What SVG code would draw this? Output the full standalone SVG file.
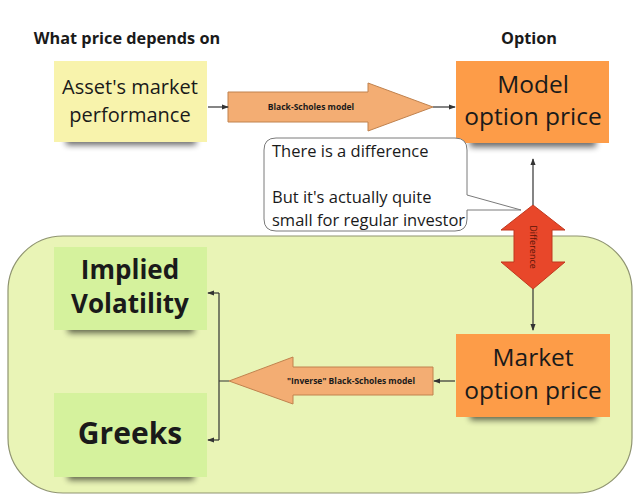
<svg xmlns="http://www.w3.org/2000/svg" width="640" height="502" viewBox="0 0 640 502">
<defs>
<filter id="sh" x="-20%" y="-100%" width="140%" height="300%"><feGaussianBlur stdDeviation="3"/></filter>
<marker id="ah" viewBox="0 0 8 8" refX="7" refY="4" markerWidth="7" markerHeight="7" orient="auto" markerUnits="userSpaceOnUse"><path d="M0,1 L8,4 L0,7 Z" fill="#333"/></marker>
<style>
.t{font-family:"Open Sans","DejaVu Sans",sans-serif;fill:#1a1a1a;text-anchor:middle}
.s{text-anchor:start}
.b{font-weight:bold}
.shadow{fill:#000;opacity:.6;filter:url(#sh)}
.yel{fill:#f8f3ac}
.org{fill:#fd9c48}
.grn{fill:#d5f29d}
.blk{fill:#f3ad73;stroke:#c0824e;stroke-width:1}
.ln{stroke:#333;stroke-width:1.2;fill:none}
</style>
</defs>
<rect width="640" height="502" fill="#ffffff"/>
<text class="t b" x="127" y="44" font-size="16.3">What price depends on</text>
<text class="t b" x="529" y="44" font-size="16.3">Option</text>
<g id="container"><rect x="8" y="236" width="624" height="257" rx="55" ry="55" fill="#e9f4b6" stroke="#8f9470" stroke-width="1.2"/></g>
<g id="asset">
<rect class="shadow" x="66" y="135" width="130" height="10"/>
<rect class="yel" x="54" y="61" width="153" height="81"/>
<text class="t" x="130" y="94" font-size="20">Asset's market</text>
<text class="t" x="130" y="122" font-size="20">performance</text>
</g>
<g id="model">
<rect class="shadow" x="470" y="137" width="126" height="10"/>
<rect class="org" x="456" y="61" width="153" height="82"/>
<text class="t" x="533" y="93" font-size="24.5">Model</text>
<text class="t" x="533" y="125" font-size="24.5">option price</text>
</g>
<g id="market">
<rect class="shadow" x="470" y="410" width="126" height="10"/>
<rect class="org" x="456" y="334" width="154" height="83"/>
<text class="t" x="533" y="366" font-size="24.5">Market</text>
<text class="t" x="533" y="399" font-size="24.5">option price</text>
</g>
<g id="implied">
<rect class="shadow" x="68" y="323" width="126" height="10"/>
<rect class="grn" x="54" y="247" width="153" height="83"/>
<text class="t b" x="130" y="279" font-size="26">Implied</text>
<text class="t b" x="130" y="313" font-size="26">Volatility</text>
</g>
<g id="greeks">
<rect class="shadow" x="68" y="470" width="126" height="10"/>
<rect class="grn" x="54" y="393" width="153" height="84"/>
<text class="t b" x="130" y="444" font-size="30">Greeks</text>
</g>
<g id="bs-arrow">
<polygon class="blk" points="228,92 368,92 368,83 433,107 368,131 368,122 228,122"/>
<text class="t b" x="311" y="110" font-size="8.5">Black-Scholes model</text>
</g>
<g id="inverse-arrow">
<polygon class="blk" points="433,367 293,367 293,357 229,381 293,404 293,395 433,395"/>
<text class="t b" x="351" y="384" font-size="8.5">"Inverse" Black-Scholes model</text>
</g>
<g id="callout">
<path d="M276 138 H455 Q467 138 467 150 V195 L521 210 L467 210 V219 Q467 231 455 231 H276 Q264 231 264 219 V150 Q264 138 276 138 Z" fill="#ffffff" stroke="#7a7a7a" stroke-width="1"/>
<text class="t s" x="272" y="157" font-size="16.5">There is a difference</text>
<text class="t s" x="272" y="203" font-size="16.5">But it's actually quite</text>
<text class="t s" x="272" y="226" font-size="16.5">small for regular investor</text>
</g>
<g id="difference">
<polygon points="533,205 565,230 552,230 552,262 565,262 533,289 501,262 514,262 514,230 501,230" fill="#e8472a" stroke="#c0391f" stroke-width="1"/>
<text class="t" x="0" y="0" font-size="9" style="fill:#5a1408" transform="translate(530,247) rotate(90)">Difference</text>
</g>
<g id="connectors">
<line class="ln" x1="208" y1="107" x2="228" y2="107" marker-end="url(#ah)"/>
<line class="ln" x1="433" y1="107" x2="455" y2="107" marker-end="url(#ah)"/>
<line class="ln" x1="533" y1="205" x2="533" y2="159" marker-end="url(#ah)"/>
<line class="ln" x1="533" y1="289" x2="533" y2="330" marker-end="url(#ah)"/>
<line class="ln" x1="455" y1="381" x2="434" y2="381" marker-end="url(#ah)"/>
<path class="ln" d="M229 381 H219 M219 293 V440"/>
<line class="ln" x1="219" y1="293" x2="208" y2="293" marker-end="url(#ah)"/>
<line class="ln" x1="219" y1="440" x2="208" y2="440" marker-end="url(#ah)"/>
</g>
</svg>
